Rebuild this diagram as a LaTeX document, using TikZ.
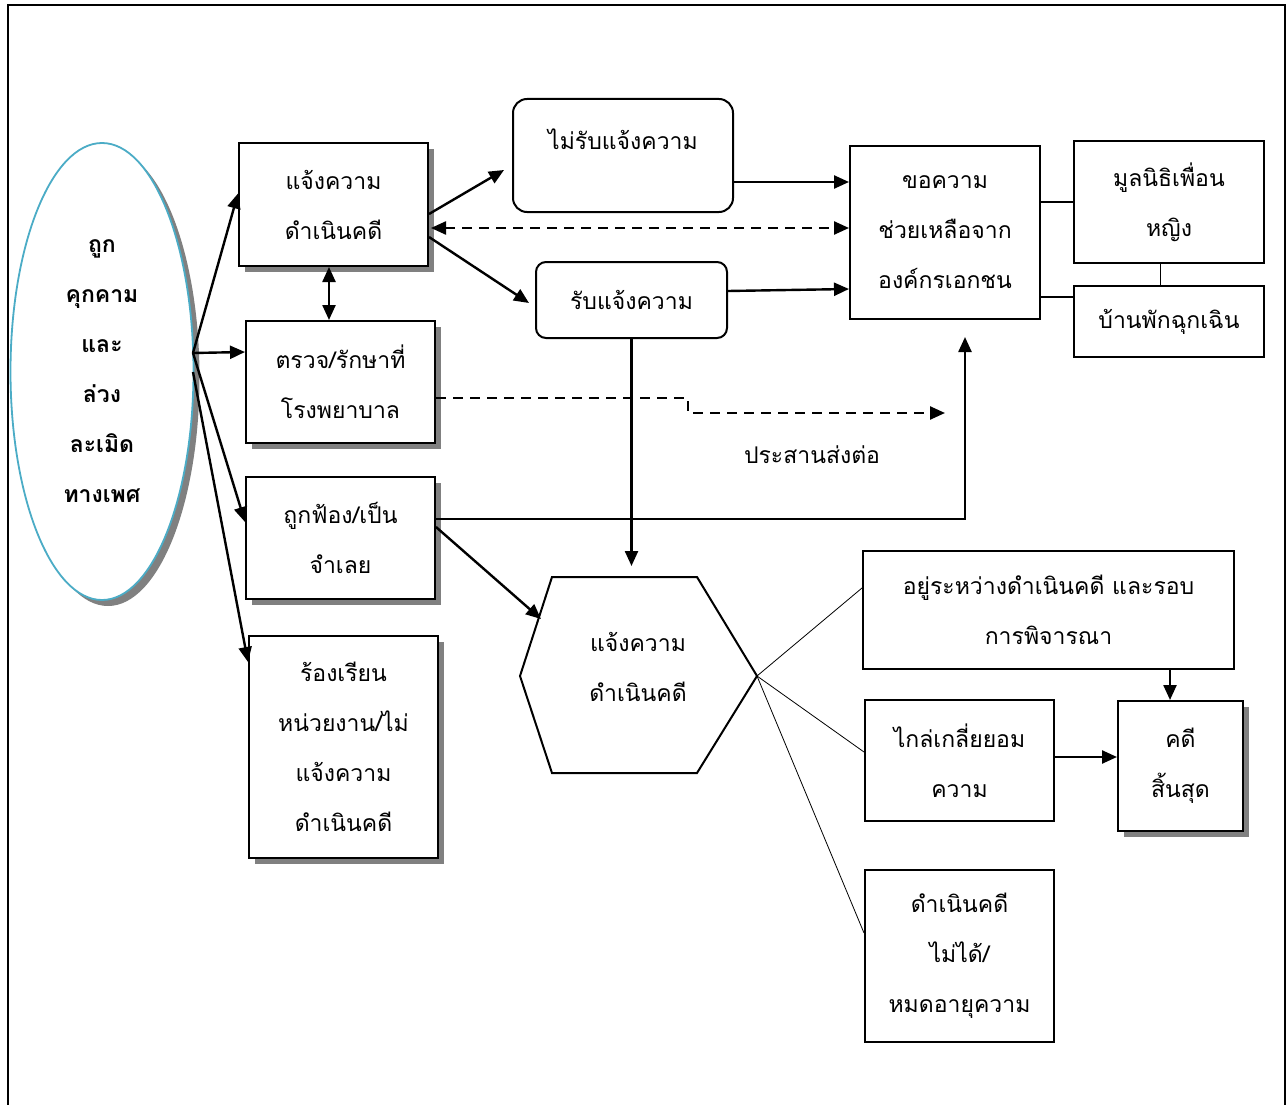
\documentclass[tikz,border=0pt]{standalone}
\usepackage{fontspec}
\newfontfamily\thaifam[Script=Thai]{Loma}
\usetikzlibrary{shapes.geometric,arrows.meta,shadows}
\definecolor{ellc}{RGB}{75,172,198}
\newcommand\tf{\thaifam\fontsize{23}{50}\selectfont}
\begin{document}
\begin{tikzpicture}[x=1pt,y=-1pt,
  box/.style={draw, line width=2pt, fill=white, align=center, font=\tf, inner sep=0pt},
  shbox/.style={box, drop shadow={shadow xshift=6pt, shadow yshift=-6pt, fill=black!50, opacity=1}},
  rbox/.style={box, rounded corners=14pt},
  arr/.style={line width=2.4pt, -{Triangle[length=15pt,width=13pt]}},
  darr/.style={line width=2.4pt, {Triangle[length=15pt,width=13pt]}-{Triangle[length=15pt,width=13pt]}},
  thin/.style={line width=0.8pt},
  mid/.style={line width=1.5pt}]
\useasboundingbox (0,0) rectangle (1288,1105);
\fill[white] (0,0) rectangle (1288,1105);
\draw[line width=2pt] (8,1120) -- (8,5) -- (1285,5) -- (1285,1120);

% ellipse
\node[ellipse, draw=ellc, line width=1.8pt, fill=white, minimum width=183pt, minimum height=457pt,
  drop shadow={shadow xshift=6pt, shadow yshift=-6pt, fill=black!50, opacity=1},
  align=center, font=\tf\bfseries, inner sep=0pt] (V) at (102,371.5)
  {ถูก\\คุกคาม\\และ\\ล่วง\\ละเมิด\\ทางเพศ};
\coordinate (eo) at (193,353);
\coordinate (eo2) at (193,372);

% left boxes
\node[shbox, minimum width=189pt, minimum height=123pt] (A) at (333.5,204.5) {แจ้งความ\\ดำเนินคดี};
\node[shbox, minimum width=189pt, minimum height=122pt] (B) at (340.5,382) {ตรวจ/รักษาที่\\โรงพยาบาล};
\node[shbox, minimum width=189pt, minimum height=122pt] (C) at (340.5,538) {ถูกฟ้อง/เป็น\\จำเลย};
\node[shbox, minimum width=189pt, minimum height=222pt] (D) at (343.5,747) {ร้องเรียน\\หน่วยงาน/ไม่\\แจ้งความ\\ดำเนินคดี};

% rounded boxes
\node[rbox, minimum width=220pt, minimum height=113pt, text depth=32pt] (E) at (623,155.5) {ไม่รับแจ้งความ};
\node[rbox, rounded corners=10pt, minimum width=191pt, minimum height=76pt] (F) at (631.5,300) {รับแจ้งความ};

% right boxes
\node[box, minimum width=190pt, minimum height=173pt] (G) at (945,232.5) {ขอความ\\ช่วยเหลือจาก\\องค์กรเอกชน};
\node[box, minimum width=190pt, minimum height=122pt] (H) at (1169,202) {มูลนิธิเพื่อน\\หญิง};
\node[box, minimum width=190pt, minimum height=71pt] (I) at (1169,321.5) {บ้านพักฉุกเฉิน};

% hexagon
\coordinate (h1) at (552,577);
\coordinate (h2) at (697,577);
\coordinate (h3) at (757,676);
\coordinate (h4) at (697,773);
\coordinate (h5) at (552,773);
\coordinate (h6) at (520,676);
\draw[line width=2pt, fill=white] (h1) -- (h2) -- (h3) -- (h4) -- (h5) -- (h6) -- cycle;
\node[align=center, font=\tf, inner sep=0pt] (X) at (638,667) {แจ้งความ\\ดำเนินคดี};

% lower right boxes
\node[box, minimum width=371pt, minimum height=118pt] (J) at (1048.5,610) {อยู่ระหว่างดำเนินคดี และรอบ\\การพิจารณา};
\node[box, minimum width=189pt, minimum height=121pt] (K) at (959.5,760.5) {ไกล่เกลี่ยยอม\\ความ};
\node[shbox, minimum width=125pt, minimum height=130pt] (L) at (1180.5,766) {คดี\\สิ้นสุด};
\node[box, minimum width=189pt, minimum height=172pt] (M) at (959.5,956) {ดำเนินคดี\\ไม่ได้/\\หมดอายุความ};

\node[font=\tf, inner sep=0pt] (lab) at (812,455) {ประสานส่งต่อ};

% connectors from ellipse
\draw[arr] (eo) -- ([yshift=11pt]A.west);
\draw[arr] (eo) -- ([yshift=30pt]B.west);
\draw[arr] (eo) -- ([yshift=16pt]C.west);
\draw[arr] (eo2) -- ([yshift=85pt]D.west);

\draw[darr] ([xshift=-4.5pt]A.south) -- ([xshift=-4.5pt]A.south |- B.north);

\draw[arr] ([yshift=-9.5pt]A.east) -- ([xshift=-8pt,yshift=-14.5pt]E.west);
\draw[arr] ([yshift=-32.5pt]A.east) -- ([xshift=-6pt,yshift=-3pt]F.west);
\draw[darr, dashed, dash pattern=on 10pt off 7pt] ([xshift=2pt,yshift=-23.5pt]A.east) -- ([yshift=4.5pt]G.west);

\draw[arr] ([yshift=-26.5pt]E.east) -- ([yshift=50.5pt]G.west);
\draw[arr] ([yshift=9pt]F.east) -- ([yshift=-56.5pt]G.west);

\coordinate (hin) at (632,566);
\draw[arr] (F.south) -- (F.south |- hin);

\coordinate (bend1) at (688,398);
\coordinate (bend2) at (688,413);
\coordinate (dend) at (945,413);
\draw[arr, dashed, dash pattern=on 10pt off 7pt] ([yshift=-16pt]B.east) -- (bend1) -- (bend2) -- (dend);

\draw[arr] ([yshift=19pt]C.east) -| ([xshift=20pt,yshift=-17pt]G.south);
\coordinate (hul) at (541,619);
\draw[arr] ([yshift=11pt]C.east) -- (hul);

\draw[thin] (h3) -- ([yshift=22pt]J.west);
\draw[thin] (h3) -- ([yshift=8.5pt]K.west);
\draw[thin] (h3) -- ([yshift=23pt]M.west);

\draw[arr] ([xshift=121.5pt]J.south) -- ([xshift=121.5pt]J.south |- L.north);
\draw[arr] ([yshift=3.5pt]K.east) -- ([yshift=3.5pt]K.east -| L.west);

\draw[mid] ([yshift=30.5pt]G.east) -- ([yshift=30.5pt]G.east -| H.west);
\draw[mid] ([yshift=-64.5pt]G.east) -- ([yshift=-64.5pt]G.east -| I.west);
\draw[thin] ([xshift=-9pt]H.south) -- ([xshift=-9pt]H.south |- I.north);
\end{tikzpicture}
\end{document}
